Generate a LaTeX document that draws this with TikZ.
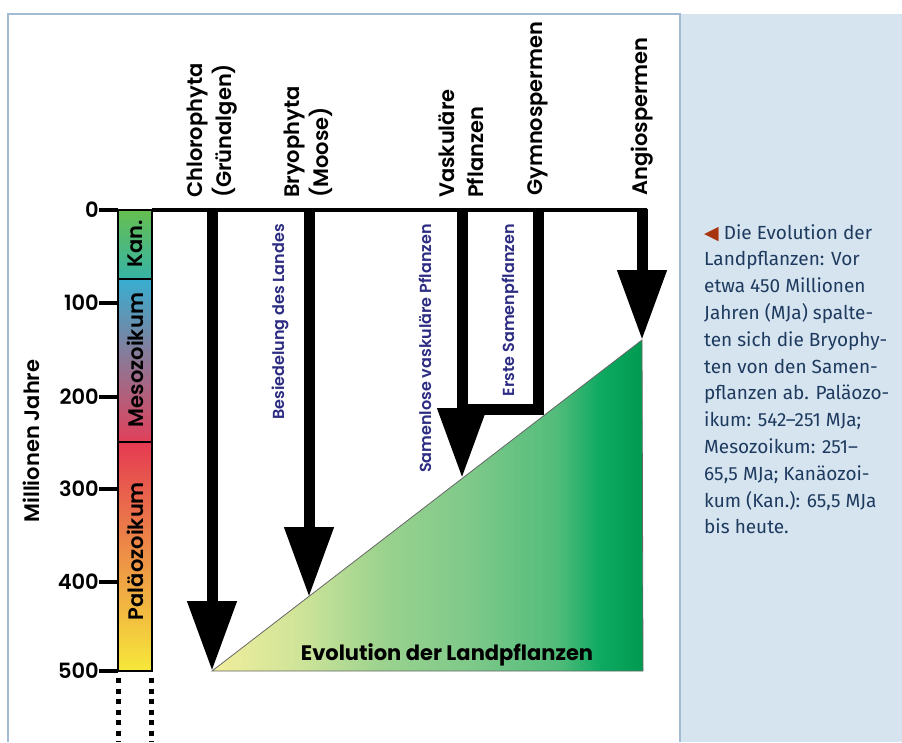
\documentclass[tikz,border=0pt]{standalone}
\usepackage{fontspec}
\usetikzlibrary{arrows.meta}
\newfontfamily\gothic{Poppins}[UprightFont=* SemiBold, BoldFont=* Bold]
\newfontfamily\infofont{Fira Sans}
\newfontfamily\symfont{DejaVu Sans}
\definecolor{frameblue}{HTML}{A3BCD3}
\definecolor{panelblue}{HTML}{D5E4EF}
\definecolor{infotext}{HTML}{1E3A5F}
\definecolor{infotri}{HTML}{A8340F}
\definecolor{eventblue}{HTML}{2C2C82}
\definecolor{kantop}{HTML}{66BE50}
\definecolor{kanbot}{HTML}{36B4A6}
\definecolor{mestop}{HTML}{38AED0}
\definecolor{mesmid}{HTML}{9A8AA0}
\definecolor{mesbot}{HTML}{E2405A}
\definecolor{paltop}{HTML}{E53A52}
\definecolor{palmid}{HTML}{F08A44}
\definecolor{palbot}{HTML}{F6E83A}
\definecolor{g0}{HTML}{F2EE9C}
\definecolor{g1}{HTML}{CFE499}
\definecolor{g2}{HTML}{9AD28E}
\definecolor{g3}{HTML}{7EC98A}
\definecolor{g4}{HTML}{52BC7A}
\definecolor{g5}{HTML}{0EAA62}
\definecolor{g6}{HTML}{009A50}
\pgfdeclarehorizontalshading{landgrad}{100bp}{color(0bp)=(g0); color(25bp)=(g0); color(35bp)=(g1); color(45bp)=(g2); color(55bp)=(g3); color(65bp)=(g4); color(70bp)=(g5); color(75bp)=(g6); color(100bp)=(g6)}
\tikzset{
  lbl/.style={font=\gothic\fontsize{21}{29}\selectfont, inner sep=0pt},
  grouplbl/.style={lbl, rotate=90, anchor=west, align=left},
  eralbl/.style={lbl, rotate=90},
  eventlbl/.style={font=\gothic\fontsize{16}{19}\selectfont, text=eventblue, rotate=90, anchor=east, inner sep=0pt},
  shaft/.style={line width=11pt},
  bigarrow/.style={shaft, -{Triangle[width=47pt,length=70pt]}},
  axisline/.style={line width=3.5pt},
  eraborder/.style={draw=black, line width=2.5pt},
  dots/.style={line width=5.5pt, dash pattern=on 5pt off 5.5pt},
  info/.style={font=\infofont\fontsize{19}{26.8}\selectfont, text=infotext, align=left, inner sep=0pt}
}
\begin{document}
\begin{tikzpicture}[x=1pt, y=-1pt]
  \useasboundingbox (0,0) rectangle (902,742);
  \fill[panelblue] (680,14) rectangle (902,742);
  \draw[frameblue, line width=1.5pt] (8,742) -- (8,14) -- (680,14) -- (680,742);

  \coordinate (chl top) at (212,208.5);
  \coordinate (chl tip) at (212,671);
  \coordinate (bry top) at (309,208.5);
  \coordinate (bry tip) at (309,597);
  \coordinate (vas top) at (462,208.5);
  \coordinate (vas tip) at (462,478);
  \coordinate (vas join) at (462,409);
  \coordinate (gym top) at (538,208.5);
  \coordinate (ang top) at (642,208.5);
  \coordinate (ang tip) at (642,340);
  \coordinate (tri corner) at (643,671);

  \shadedraw[shading=landgrad, draw=black!60, line width=0.8pt] (chl tip) -- (ang tip) -- (tri corner) -- cycle;
  \node[lbl, font=\gothic\bfseries\fontsize{21}{25}\selectfont] (evo) at (447,655) {Evolution der Landpflanzen};

  \shade[top color=kantop, bottom color=kanbot] (118,210) rectangle (152,279);
  \shade[top color=mestop, middle color=mesmid, bottom color=mesbot] (118,279) rectangle (152,442);
  \shade[top color=paltop, middle color=palmid, bottom color=palbot] (118,442) rectangle (152,671);
  \draw[eraborder] (118,210) rectangle (152,671);
  \draw[eraborder] (118,279) -- (152,279);
  \draw[eraborder] (118,442) -- (152,442);
  \node[eralbl] (kan) at (135,244) {Kan.};
  \node[eralbl] (meso) at (135,360) {Mesozoikum};
  \node[eralbl] (palaeo) at (135,551) {Paläozoikum};
  \draw[dots] (118.5,678) -- (118.5,742);
  \draw[dots] (151.5,678) -- (151.5,742);

  \foreach \v/\y in {0/210,100/303,200/397,300/489,400/582,500/671} {
    \node[lbl, anchor=east] (t\v) at (99,\y) {\v};
    \draw[axisline] (t\v.east) -- (118,\y);
  }
  \node[lbl, rotate=90] (axis) at (31,441) {Millionen Jahre};

  \draw[axisline] (152,210) -- (647,210);
  \draw[bigarrow] (chl top) -- (chl tip);
  \draw[bigarrow] (bry top) -- (bry tip);
  \draw[bigarrow] (vas top) -- (vas tip);
  \draw[shaft] (gym top) |- (vas join);
  \draw[bigarrow] (ang top) -- (ang tip);

  \node[grouplbl] (chl) at (212,198) {Chlorophyta\\(Grünalgen)};
  \node[grouplbl] (bry) at (308,198) {Bryophyta\\(Moose)};
  \node[grouplbl] (vas) at (461,198) {Vaskuläre\\Pflanzen};
  \node[grouplbl] (gym) at (538,196) {Gymnospermen};
  \node[grouplbl] (ang) at (642,196) {Angiospermen};

  \node[eventlbl] (land) at (280,224) {Besiedelung des Landes};
  \node[eventlbl] (seedless) at (425,224) {Samenlose vaskuläre Pflanzen};
  \node[eventlbl] (seed) at (510,224) {Erste Samenpflanzen};

  \node[info, anchor=north west] (caption) at (704,224) {{\symfont\color{infotri}◀} Die Evolution der\\
    Landpflanzen: Vor\\
    etwa 450 Millionen\\
    Jahren (MJa) spalte-\\
    ten sich die Bryophy-\\
    ten von den Samen-\\
    pflanzen ab. Paläozo-\\
    ikum: 542–251 MJa;\\
    Mesozoikum: 251–\\
    65,5 MJa; Kanäozoi-\\
    kum (Kan.): 65,5 MJa\\
    bis heute.};
\end{tikzpicture}
\end{document}
